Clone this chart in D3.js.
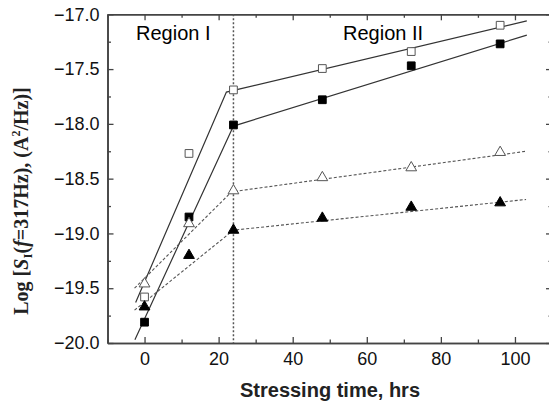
<!DOCTYPE html>
<html>
<head>
<meta charset="utf-8">
<script src="https://cdn.jsdelivr.net/npm/d3@7"></script>
<style>
  body { margin: 0; background: #fff; }
  svg { display: block; }
</style>
</head>
<body>
<div id="chart"></div>
<script>
// stressing times (hrs)
const hours = [0, 12, 24, 48, 72, 96];

// measured log noise values per device
const openSquare     = [-19.58, -18.27, -17.69, -17.495, -17.34, -17.10];
const filledSquare   = [-19.81, -18.85, -18.01, -17.78, -17.47, -17.27];
const openTriangle   = [-19.46, -18.91, -18.61, -18.49, -18.40, -18.26];
const filledTriangle = [-19.67, -19.20, -18.97, -18.86, -18.76, -18.72];

// fitted lines: start, knee, end as [hrs, value]
const fitOpenSquare     = [[-2.4, -19.63], [22.1, -17.71], [103.2, -17.06]];
const fitFilledSquare   = [[-2.6, -19.97], [24, -18.02], [103.2, -17.19]];
const fitOpenTriangle   = [[-2.7, -19.50], [23.5, -18.62], [103, -18.25]];
const fitFilledTriangle = [[-2.7, -19.70], [24, -18.97], [103, -18.69]];

const xTicks = [0, 20, 40, 60, 80, 100];
const xMinor = [-10, 10, 30, 50, 70, 90, 110];
const yTicks = [-20.0, -19.5, -19.0, -18.5, -18.0, -17.5, -17.0];
const yMinor = [-19.75, -19.25, -18.75, -18.25, -17.75, -17.25];
const boundary = 24;

const W = 549, H = 409;
const plotLeft = 107.5, plotRight = 552, plotTop = 14.3, plotBottom = 343;

const svg = d3.select('#chart').append('svg')
    .attr('width', W)
    .attr('height', H);

const x = d3.scaleLinear().domain([-10, 110]).range([plotLeft, plotRight]);
const y = d3.scaleLinear().domain([-20, -17]).range([plotBottom, plotTop]);

const axisColor = '#444';
const sans = 'Liberation Sans, Arial, sans-serif';

// Axes (ticks point inward on all four sides)
function styleAxis(g) {
    g.select('.domain').attr('stroke', axisColor).attr('stroke-width', 1.6);
    g.selectAll('.tick line').attr('stroke', axisColor).attr('stroke-width', 1.3);
    g.selectAll('text').attr('font-family', sans).attr('font-size', 18).attr('fill', '#111');
}

svg.append('g')
    .attr('transform', `translate(0,${plotBottom})`)
    .call(d3.axisBottom(x).tickValues(xMinor).tickSizeInner(-3.5).tickSizeOuter(0).tickFormat(''))
    .call(styleAxis);
svg.append('g')
    .attr('transform', `translate(0,${plotBottom})`)
    .call(d3.axisBottom(x).tickValues(xTicks).tickSizeInner(-6).tickSizeOuter(0).tickPadding(6).tickFormat(d3.format('d')))
    .call(styleAxis)
    .selectAll('text').attr('dy', '0.9em');

svg.append('g')
    .attr('transform', `translate(0,${plotTop})`)
    .call(d3.axisTop(x).tickValues(xMinor).tickSizeInner(-3.5).tickSizeOuter(0).tickFormat(''))
    .call(styleAxis);
svg.append('g')
    .attr('transform', `translate(0,${plotTop})`)
    .call(d3.axisTop(x).tickValues(xTicks).tickSizeInner(-6).tickSizeOuter(0).tickFormat(''))
    .call(styleAxis);

svg.append('g')
    .attr('transform', `translate(${plotLeft},0)`)
    .call(d3.axisLeft(y).tickValues(yMinor).tickSizeInner(-3.5).tickSizeOuter(0).tickFormat(''))
    .call(styleAxis);
svg.append('g')
    .attr('transform', `translate(${plotLeft},0)`)
    .call(d3.axisLeft(y).tickValues(yTicks).tickSizeInner(-6).tickSizeOuter(0).tickPadding(8).tickFormat(d3.format('.1f')))
    .call(styleAxis);

svg.append('g')
    .attr('transform', `translate(${plotRight},0)`)
    .call(d3.axisRight(y).tickValues(yMinor).tickSizeInner(-3.5).tickSizeOuter(0).tickFormat(''))
    .call(styleAxis);
svg.append('g')
    .attr('transform', `translate(${plotRight},0)`)
    .call(d3.axisRight(y).tickValues(yTicks).tickSizeInner(-6).tickSizeOuter(0).tickFormat(''))
    .call(styleAxis);

// Region boundary
svg.append('line')
    .attr('x1', x(boundary)).attr('x2', x(boundary))
    .attr('y1', y(-17)).attr('y2', y(-20))
    .attr('stroke', '#555')
    .attr('stroke-width', 1.5)
    .attr('stroke-dasharray', '2,2');

svg.append('text')
    .attr('x', 136).attr('y', 39.5)
    .attr('font-family', sans).attr('font-size', 20)
    .text('Region I');
svg.append('text')
    .attr('x', 343).attr('y', 39.5)
    .attr('font-family', sans).attr('font-size', 20)
    .text('Region II');

// Fit lines
const line = d3.line().x(d => x(d[0])).y(d => y(d[1]));
const fits = [
    { pts: fitOpenSquare, dash: null },
    { pts: fitFilledSquare, dash: null },
    { pts: fitOpenTriangle, dash: '3,2' },
    { pts: fitFilledTriangle, dash: '3,2' }
];
fits.forEach(f => {
    svg.append('path')
        .attr('d', line(f.pts))
        .attr('fill', 'none')
        .attr('stroke', f.dash ? '#555' : '#333')
        .attr('stroke-width', f.dash ? 1.1 : 1.2)
        .attr('stroke-dasharray', f.dash);
});

// Markers
const series = [
    { vals: openSquare, shape: d3.symbolSquare, size: 60, filled: false },
    { vals: filledSquare, shape: d3.symbolSquare, size: 60, filled: true },
    { vals: openTriangle, shape: d3.symbolTriangle, size: 50, filled: false },
    { vals: filledTriangle, shape: d3.symbolTriangle, size: 50, filled: true }
];
series.forEach(s => {
    svg.append('g').selectAll('path')
        .data(s.vals)
        .enter().append('path')
        .attr('transform', (d, i) => `translate(${x(hours[i])},${y(d)})`)
        .attr('d', d3.symbol().type(s.shape).size(s.size))
        .attr('fill', s.filled ? '#000' : '#fff')
        .attr('stroke', s.filled ? '#000' : '#555')
        .attr('stroke-width', 1);
});

// Axis titles
svg.append('text')
    .attr('x', 330).attr('y', 397)
    .attr('text-anchor', 'middle')
    .attr('font-family', sans).attr('font-size', 20).attr('font-weight', 'bold')
    .attr('fill', '#222')
    .text('Stressing time, hrs');

const yTitle = svg.append('text')
    .attr('transform', 'translate(28,201) rotate(-90)')
    .attr('text-anchor', 'middle')
    .attr('font-family', 'Liberation Serif, Times New Roman, serif')
    .attr('font-size', 20).attr('font-weight', 'bold')
    .attr('fill', '#222');
yTitle.append('tspan').text('Log [');
yTitle.append('tspan').attr('font-style', 'italic').text('S');
yTitle.append('tspan').attr('font-size', 13).attr('dy', 4).text('I');
yTitle.append('tspan').attr('dy', -4).text('(');
yTitle.append('tspan').attr('font-style', 'italic').text('f');
yTitle.append('tspan').text('=317Hz), (A');
yTitle.append('tspan').attr('font-size', 12).attr('dy', -8).text('2');
yTitle.append('tspan').attr('dy', 8).text('/Hz)]');
</script>
</body>
</html>
